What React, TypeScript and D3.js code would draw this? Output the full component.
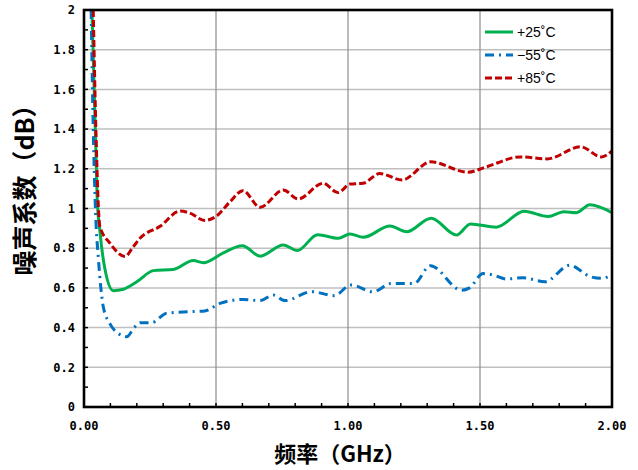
import React from "react";
import * as d3 from "d3";

// frequency (GHz) / noise figure (dB)
const green25X = [0.03, 0.045, 0.05, 0.061, 0.08, 0.111, 0.149, 0.2, 0.263, 0.338, 0.414, 0.452, 0.528, 0.6, 0.667, 0.755, 0.808, 0.885, 0.963, 1.008, 1.058, 1.159, 1.222, 1.315, 1.411, 1.464, 1.562, 1.667, 1.758, 1.818, 1.865, 1.916, 2.0];
const green25Y = [2.0, 1.3, 1.05, 0.876, 0.69, 0.586, 0.593, 0.631, 0.687, 0.693, 0.738, 0.727, 0.777, 0.812, 0.76, 0.816, 0.788, 0.868, 0.85, 0.872, 0.855, 0.912, 0.883, 0.951, 0.866, 0.922, 0.906, 0.986, 0.96, 0.984, 0.979, 1.019, 0.979];

const blue55X = [0.027, 0.035, 0.045, 0.054, 0.073, 0.098, 0.13, 0.162, 0.19, 0.212, 0.256, 0.313, 0.402, 0.458, 0.515, 0.603, 0.667, 0.717, 0.761, 0.862, 0.948, 1.011, 1.095, 1.163, 1.25, 1.312, 1.43, 1.46, 1.512, 1.55, 1.6, 1.663, 1.746, 1.84, 1.917, 1.961, 2.0];
const blue55Y = [2.0, 1.4, 0.94, 0.757, 0.505, 0.42, 0.37, 0.354, 0.4, 0.425, 0.425, 0.472, 0.48, 0.484, 0.522, 0.542, 0.536, 0.564, 0.536, 0.581, 0.561, 0.615, 0.58, 0.622, 0.622, 0.712, 0.588, 0.6, 0.672, 0.665, 0.645, 0.651, 0.631, 0.714, 0.657, 0.648, 0.668];

const red85X = [0.035, 0.045, 0.06, 0.098, 0.155, 0.187, 0.212, 0.288, 0.364, 0.4, 0.458, 0.502, 0.553, 0.602, 0.667, 0.755, 0.811, 0.906, 0.962, 1.008, 1.057, 1.12, 1.205, 1.313, 1.455, 1.52, 1.654, 1.755, 1.881, 1.96, 2.0];
const red85Y = [2.0, 1.4, 0.91, 0.826, 0.758, 0.808, 0.85, 0.91, 0.987, 0.977, 0.94, 0.962, 1.034, 1.09, 1.006, 1.093, 1.048, 1.127, 1.08, 1.123, 1.127, 1.176, 1.144, 1.235, 1.183, 1.208, 1.26, 1.25, 1.311, 1.26, 1.29];

const xTicks = [0, 0.5, 1.0, 1.5, 2.0];
const yTicks = [0, 0.2, 0.4, 0.6, 0.8, 1.0, 1.2, 1.4, 1.6, 1.8, 2.0];
const minorTicks = d3.range(0, 21).map((i) => i / 10);

const seriesNames = ["+25˚C", "−55˚C", "+85˚C"];

const W = 638;
const H = 470;
const M = { left: 84, right: 26, top: 10, bottom: 63 };

const SERIES = [
  { name: seriesNames[0], xs: green25X, ys: green25Y, color: "#00b050", dash: "none" },
  { name: seriesNames[1], xs: blue55X, ys: blue55Y, color: "#0070c0", dash: "9,5,2,5" },
  { name: seriesNames[2], xs: red85X, ys: red85Y, color: "#c00000", dash: "7,3" },
];

export default function App() {
  const x = d3.scaleLinear().domain([0, 2]).range([M.left, W - M.right]);
  const y = d3.scaleLinear().domain([0, 2]).range([H - M.bottom, M.top]);
  const line = d3
    .line<[number, number]>()
    .x((d) => x(d[0]))
    .y((d) => y(d[1]))
    .curve(d3.curveMonotoneX);

  const x0 = x(0), x1 = x(2), y0 = y(0), y1 = y(2);
  const numFont = "'DejaVu Sans Mono', monospace";
  const cjkFont = "'Noto Sans CJK SC', sans-serif";

  return (
    <svg width={W} height={H} style={{ position: "absolute", left: 0, top: 0, background: "#fff" }}>
      <defs>
        <clipPath id="plot">
          <rect x={x0} y={y1} width={x1 - x0} height={y0 - y1} />
        </clipPath>
      </defs>

      {/* grid */}
      {yTicks.slice(1, -1).map((t) => (
        <line key={"gy" + t} x1={x0} x2={x1} y1={y(t)} y2={y(t)} stroke="#bfbfbf" strokeWidth={1.5} />
      ))}
      {xTicks.slice(1, -1).map((t) => (
        <line key={"gx" + t} x1={x(t)} x2={x(t)} y1={y1} y2={y0} stroke="#8c8c8c" strokeWidth={1.2} />
      ))}

      {/* series */}
      <g clipPath="url(#plot)">
        {SERIES.map((s) => (
          <path
            key={s.name}
            d={line(s.xs.map((v, i) => [v, s.ys[i]]) as [number, number][]) || ""}
            fill="none"
            stroke={s.color}
            strokeWidth={3}
            strokeDasharray={s.dash}
          />
        ))}
      </g>

      {/* minor ticks */}
      {minorTicks.map((t) => (
        <line key={"ty" + t} x1={x0} x2={x0 + 4} y1={y(t)} y2={y(t)} stroke="#000" strokeWidth={1.5} />
      ))}
      {minorTicks.map((t) => (
        <line key={"tx" + t} x1={x(t)} x2={x(t)} y1={y0} y2={y0 - 4} stroke="#000" strokeWidth={1.5} />
      ))}

      {/* frame */}
      <rect x={x0} y={y1} width={x1 - x0} height={y0 - y1} fill="none" stroke="#000" strokeWidth={2.6} />

      {/* tick labels */}
      {yTicks.map((t) => (
        <text key={"ly" + t} x={x0 - 9} y={y(t)} dy="0.35em" textAnchor="end" fontFamily={numFont} fontWeight="bold" fontSize={12} fill="#000">
          {String(+t.toFixed(1))}
        </text>
      ))}
      {xTicks.map((t) => (
        <text key={"lx" + t} x={x(t)} y={y0 + 23} textAnchor="middle" fontFamily={numFont} fontWeight="bold" fontSize={12} fill="#000">
          {d3.format(".2f")(t)}
        </text>
      ))}

      {/* axis titles */}
      <text x={340} y={462} textAnchor="middle" fontFamily={cjkFont} fontWeight="bold" fontSize={22} fill="#000">
        频率（GHz）
      </text>
      <text transform="translate(34,184) rotate(-90)" textAnchor="middle" fontFamily={cjkFont} fontWeight="bold" fontSize={25} fill="#000">
        噪声系数（dB）
      </text>

      {/* legend */}
      {SERIES.map((s, i) => (
        <g key={"lg" + s.name} transform={`translate(485,${32 + i * 23})`}>
          <line x1={0} x2={28} y1={0} y2={0} stroke={s.color} strokeWidth={3} strokeDasharray={s.dash} />
          <text x={32} y={0} dy="0.38em" fontFamily="'Liberation Sans', Arial, sans-serif" fontSize={14} fill="#000">
            {s.name}
          </text>
        </g>
      ))}
    </svg>
  );
}
